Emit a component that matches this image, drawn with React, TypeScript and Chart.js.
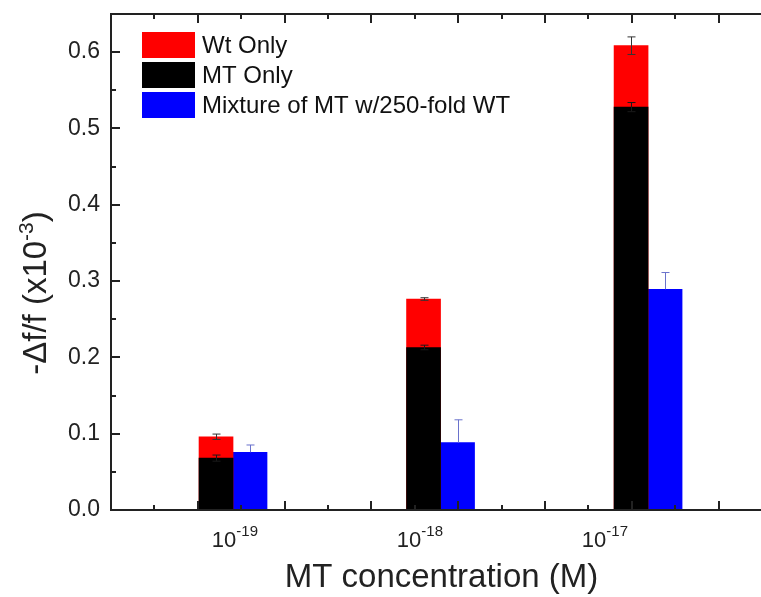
import React, { useEffect, useRef } from "react";
import { Chart, registerables } from "chart.js";

Chart.register(...registerables);

// ---------- data ----------
const exponents = [-19, -18, -17]; // MT concentration = 10^exponent (M)
const seriesLabels = ["Wt Only", "MT Only", "Mixture of MT w/250-fold WT"];
const seriesColors = ["#ff0000", "#000000", "#0000ff"];
const wtOnly = [0.096, 0.2765, 0.6085];
const wtErr = [0.0035, 0.0017, 0.0115];
const mtOnly = [0.068, 0.213, 0.528];
const mtErr = [0.004, 0.003, 0.006];
const mixture = [0.0756, 0.0882, 0.2892];
const mixErr = [0.0096, 0.03, 0.022];
const yTickValues = [0, 0.1, 0.2, 0.3, 0.4, 0.5, 0.6];
const xTitle = "MT concentration (M)";
const yTitleMain = "-\u0394f/f (x10";
const yTitleSup = "-3";
const yTitleEnd = ")";

const FONT = '"Liberation Sans", Arial, Helvetica, sans-serif';
const f = (size: number) => `${size}px ${FONT}`;

type Part = { t: string; size: number; rise: number };

function drawRich(ctx: CanvasRenderingContext2D, parts: Part[], x: number, y: number, align: "center" | "left") {
  const widths = parts.map((p) => {
    ctx.font = f(p.size);
    return ctx.measureText(p.t).width;
  });
  const total = widths.reduce((a, b) => a + b, 0);
  let cx = align === "center" ? x - total / 2 : x;
  ctx.textAlign = "left";
  ctx.textBaseline = "alphabetic";
  parts.forEach((p, i) => {
    ctx.font = f(p.size);
    ctx.fillText(p.t, cx, y - p.rise);
    cx += widths[i];
  });
}

const decorPlugin = {
  id: "decor",
  afterDatasetsDraw(chart: any) {
    const ctx: CanvasRenderingContext2D = chart.ctx;
    const ys = chart.scales.y;
    chart.data.datasets.forEach((ds: any, di: number) => {
      const meta = chart.getDatasetMeta(di);
      ctx.save();
      ctx.strokeStyle = ds.errColor;
      ctx.lineWidth = 1;
      meta.data.forEach((bar: any, i: number) => {
        const v = ds.data[i].y;
        const e = ds.errors[i];
        const x = Math.round(bar.x) + 0.5;
        const yt = ys.getPixelForValue(v + e);
        const yb = ys.getPixelForValue(ds.errUpOnly ? v : v - e);
        ctx.beginPath();
        ctx.moveTo(x, yt);
        ctx.lineTo(x, yb);
        ctx.moveTo(x - 4, yt);
        ctx.lineTo(x + 4, yt);
        if (!ds.errUpOnly) {
          ctx.moveTo(x - 4, yb);
          ctx.lineTo(x + 4, yb);
        }
        ctx.stroke();
      });
      ctx.restore();
    });
  },
  afterDraw(chart: any) {
    const ctx: CanvasRenderingContext2D = chart.ctx;
    const { left, right, top, bottom } = chart.chartArea;
    const ys = chart.scales.y;
    const xt = chart.scales.xt;
    const xl = chart.scales.xl;
    ctx.save();
    ctx.strokeStyle = "#222";
    ctx.lineWidth = 2;
    ctx.beginPath();
    ctx.moveTo(right + 10, bottom);
    ctx.lineTo(left, bottom);
    ctx.lineTo(left, top);
    ctx.lineTo(right + 10, top);
    ctx.stroke();

    // x tick marks (inward, top and bottom)
    ctx.beginPath();
    for (let k = 1; k <= 14; k++) {
      const px = Math.round(xt.getPixelForValue(k));
      const len = k % 2 === 0 ? 9 : 5;
      ctx.moveTo(px, bottom);
      ctx.lineTo(px, bottom - len);
      ctx.moveTo(px, top);
      ctx.lineTo(px, top + len);
    }
    // y tick marks (inward, left)
    for (let k = 1; k <= 13; k++) {
      const py = Math.round(ys.getPixelForValue(k * 0.05));
      const len = k % 2 === 0 ? 9 : 5;
      ctx.moveTo(left, py);
      ctx.lineTo(left + len, py);
    }
    ctx.stroke();

    // legend
    const lx = left + 31;
    const ly = top + 18;
    chart.data.datasets.forEach((ds: any, i: number) => {
      const by = ly + i * 30;
      ctx.fillStyle = ds.backgroundColor;
      ctx.fillRect(lx, by, 53, 26);
      ctx.fillStyle = "#111";
      ctx.font = f(24);
      ctx.textAlign = "left";
      ctx.textBaseline = "middle";
      ctx.fillText(ds.label, lx + 60, by + 14);
    });

    // x tick labels
    ctx.fillStyle = "#222";
    exponents.forEach((e) => {
      const px = xl.getPixelForValue(e);
      drawRich(ctx, [
        { t: "10", size: 22, rise: 0 },
        { t: String(e), size: 15, rise: 11 },
      ], px, 547, "center");
    });

    // x title
    drawRich(ctx, [{ t: xTitle, size: 33, rise: 0 }], (left + right) / 2 + 5, 587, "center");

    // y title
    ctx.save();
    ctx.translate(46, 293);
    ctx.rotate(-Math.PI / 2);
    drawRich(ctx, [
      { t: yTitleMain, size: 33, rise: 0 },
      { t: yTitleSup, size: 21, rise: 13 },
      { t: yTitleEnd, size: 33, rise: 0 },
    ], 0, 0, "center");
    ctx.restore();
    ctx.restore();
  },
};

const hiddenX = (min: number, max: number) => ({
  type: "linear",
  axis: "x",
  position: "bottom",
  min,
  max,
  offset: false,
  display: false,
  grid: { offset: false },
});

export default function App() {
  const ref = useRef<HTMLCanvasElement | null>(null);
  useEffect(() => {
    if (!ref.current) return;
    const mk = (vals: number[]) => exponents.map((e, i) => ({ x: e, y: vals[i] }));
    const chart = new Chart(ref.current, {
      type: "bar",
      data: {
        datasets: [
          { label: seriesLabels[0], data: mk(wtOnly), backgroundColor: seriesColors[0], stack: "a", order: 1, xAxisID: "x", yAxisID: "y", errors: wtErr, errColor: "#333" } as any,
          { label: seriesLabels[1], data: mk(mtOnly), backgroundColor: seriesColors[1], stack: "a", order: 0, xAxisID: "x", yAxisID: "y", errors: mtErr, errColor: "#1a1a1a" } as any,
          { label: seriesLabels[2], data: mk(mixture), backgroundColor: seriesColors[2], stack: "b", order: 2, xAxisID: "x", yAxisID: "y", errors: mixErr, errColor: "#6a72cc", errUpOnly: true } as any,
        ],
      },
      options: {
        responsive: false,
        animation: false,
        devicePixelRatio: 1,
        layout: { padding: { left: 0, top: 14, right: 38, bottom: 87 } },
        datasets: { bar: { barThickness: 34, borderWidth: 0 } },
        plugins: {
          legend: { display: false },
          tooltip: { enabled: false },
          title: { display: false },
        },
        scales: {
          x: hiddenX(-19.588, -16.451),
          xt: hiddenX(0, 15),
          xl: hiddenX(-19.67, -16.151),
          y: {
            type: "linear",
            min: 0,
            max: 0.65,
            stacked: false,
            afterBuildTicks: (s: any) => {
              s.ticks = yTickValues.map((v) => ({ value: v }));
            },
            afterFit: (s: any) => {
              s.width = 111;
            },
            ticks: {
              padding: 0,
              color: "#222",
              font: { family: FONT, size: 23 },
              callback: (v: any) => Number(v).toFixed(1),
            },
            grid: { display: true, drawOnChartArea: false, drawTicks: true, tickLength: 11, tickColor: "rgba(0,0,0,0)" },
            border: { display: false },
          },
        } as any,
      },
      plugins: [decorPlugin],
    });
    return () => chart.destroy();
  }, []);
  return (
    <div style={{ position: "fixed", left: 0, top: 0, width: 761, height: 597, overflow: "hidden", background: "#fff" }}>
      <canvas ref={ref} width={800} height={597} style={{ width: 800, height: 597, display: "block" }} />
    </div>
  );
}
